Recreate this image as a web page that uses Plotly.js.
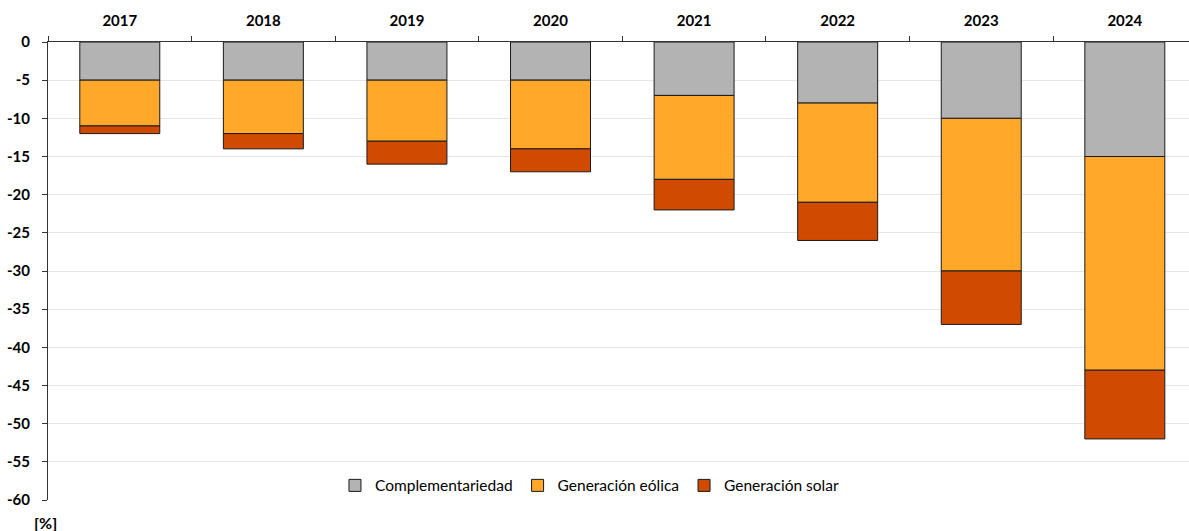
<!DOCTYPE html>
<html>
<head>
<meta charset="utf-8">
<script src="https://cdn.plot.ly/plotly-3.0.1.min.js"></script>
<style>html,body{margin:0;padding:0;background:#fff;}#chart{width:1189px;height:531px;}</style>
</head>
<body>
<div id="chart"></div>
<script>
const years = ['2017','2018','2019','2020','2021','2022','2023','2024'];
const complementariedad = [-5, -5, -5, -5, -7, -8, -10, -15];
const eolica = [-6, -7, -8, -9, -11, -13, -20, -28];
const solar = [-1, -2, -3, -3, -4, -5, -7, -9];
const yTicks = [0, -5, -10, -15, -20, -25, -30, -35, -40, -45, -50, -55, -60];

const lineStyle = {color: '#1a1a1a', width: 1};
const traces = [
  {type: 'bar', name: 'Complementariedad', x: years, y: complementariedad,
   marker: {color: '#b3b3b3', line: lineStyle}},
  {type: 'bar', name: 'Generación eólica', x: years, y: eolica,
   marker: {color: '#ffa82a', line: lineStyle}},
  {type: 'bar', name: 'Generación solar', x: years, y: solar,
   marker: {color: '#d14a02', line: lineStyle}}
];

const layout = {
  width: 1189, height: 531,
  margin: {l: 48, r: 0, t: 42, b: 31},
  paper_bgcolor: '#ffffff', plot_bgcolor: '#ffffff',
  barmode: 'relative', bargap: 0.443,
  font: {family: 'Lato, "Open Sans", sans-serif', color: '#000'},
  showlegend: true,
  legend: {orientation: 'h', x: 0.2515, xanchor: 'left', y: 0.031, yanchor: 'middle',
           font: {size: 15.5, color: '#000'}, bgcolor: 'rgba(0,0,0,0)', traceorder: 'normal'},
  xaxis: {type: 'category', side: 'top', range: [-0.5, 7.447], fixedrange: true,
          showline: true, linecolor: '#333', linewidth: 1, mirror: false,
          ticks: 'outside', tickson: 'boundaries', ticklen: 5, tickcolor: '#333',
          ticklabelstandoff: 9,
          tickfont: {size: 15, family: 'Lato, sans-serif', weight: 'bold'},
          showgrid: false, zeroline: false},
  yaxis: {range: [-60, 0], tickvals: yTicks, ticktext: yTicks.map(String),
          showline: true, linecolor: '#333', linewidth: 1,
          ticks: 'outside', ticklen: 5, tickcolor: '#333',
          ticklabelstandoff: 9,
          tickfont: {size: 15, family: 'Lato, sans-serif', weight: 'bold'},
          showgrid: true, gridcolor: '#e6e6e6', gridwidth: 1, zeroline: false},
  annotations: [
    {text: '<b>[%]</b>', xref: 'paper', yref: 'paper', x: -0.002, y: -0.05,
     xanchor: 'center', yanchor: 'middle', showarrow: false, font: {size: 16, color: '#000'}}
  ]
};

Plotly.newPlot('chart', traces, layout, {displayModeBar: false, staticPlot: true});
</script>
</body>
</html>
